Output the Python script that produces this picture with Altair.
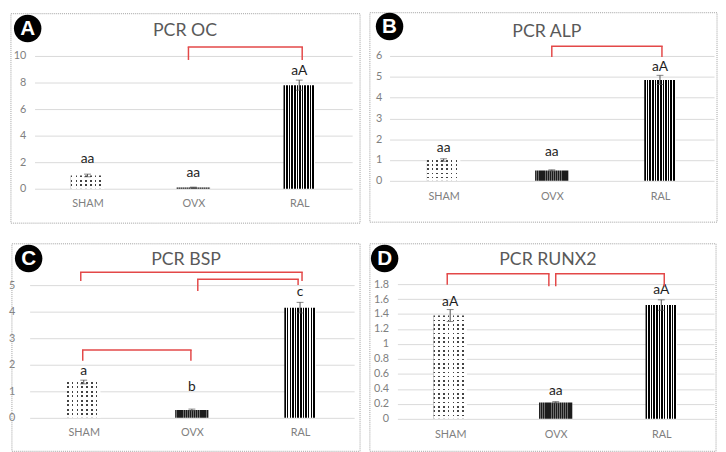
import altair as alt
import pandas as pd

# ---------------- data ----------------
cats = ["SHAM", "OVX", "RAL"]
letters = ["A", "B", "C", "D"]
titles = ["PCR OC", "PCR ALP", "PCR BSP", "PCR RUNX2"]

oc_mean = [1.0, 0.1, 7.8]
oc_err = [0.1, 0.02, 0.38]
oc_lab = ["aa", "aa", "aA"]
oc_lab_y = [2.2, 1.2, 8.9]
oc_ticks = [0, 2, 4, 6, 8, 10]
oc_brackets = [("OVX", "RAL", 10.67, 9.7, 9.7)]

alp_mean = [1.0, 0.5, 4.85]
alp_err = [0.06, 0.03, 0.22]
alp_lab = ["aa", "aa", "aA"]
alp_lab_y = [1.56, 1.37, 5.48]
alp_ticks = [0, 1, 2, 3, 4, 5, 6]
alp_brackets = [("OVX", "RAL", 6.47, 5.95, 5.95)]

bsp_mean = [1.35, 0.3, 4.15]
bsp_err = [0.07, 0.03, 0.2]
bsp_lab = ["a", "b", "c"]
bsp_lab_y = [1.78, 1.15, 4.74]
bsp_ticks = [0, 1, 2, 3, 4, 5]
bsp_brackets = [("SHAM", "RAL", 5.48, 5.15, 5.15),
                ("OVX", "RAL", 5.22, 4.78, 5.0),
                ("SHAM", "OVX", 2.56, 2.15, 2.15)]

runx2_mean = [1.38, 0.22, 1.52]
runx2_err = [0.08, 0.01, 0.07]
runx2_lab = ["aA", "aa", "aA"]
runx2_lab_y = [1.56, 0.37, 1.72]
runx2_ticks = [0, 0.2, 0.4, 0.6, 0.8, 1, 1.2, 1.4, 1.6, 1.8]
runx2_brackets = [("SHAM", "OVX", 1.94, 1.79, 1.77),
                  ("OVX", "RAL", 1.94, 1.77, 1.77)]

# ---------------- styles ----------------
RED = "#e34848"
FONT = "Lato"
BAR_W = 34


def stripes(n, c_on, c_off, frac, vertical=True):
    stops = []
    for i in range(n):
        a = i / n
        b = (i + frac) / n
        c = (i + 1) / n
        stops += [alt.GradientStop(offset=a, color=c_on),
                  alt.GradientStop(offset=b, color=c_on),
                  alt.GradientStop(offset=b, color=c_off),
                  alt.GradientStop(offset=c, color=c_off)]
    if vertical:
        return alt.LinearGradient(gradient="linear", stops=stops, x1=0, x2=1, y1=0, y2=0)
    return alt.LinearGradient(gradient="linear", stops=stops, x1=0, x2=0, y1=0, y2=1)


def panel(letter, title, means, errs, labs, lab_y, ticks, brackets, lay):
    W, H = lay["W"], lay["H"]
    ymax = ticks[-1]
    df = pd.DataFrame({
        "cat": cats,
        "mean": means,
        "lo": [m - e for m, e in zip(means, errs)],
        "hi": [m + e for m, e in zip(means, errs)],
        "lab": labs,
        "ly": lab_y,
    })
    if "xrange" in lay:
        xs = alt.Scale(type="point", domain=cats, padding=0.5, range=lay["xrange"])
    else:
        xs = alt.Scale(type="point", domain=cats, padding=0.5)
    ys = alt.Scale(domain=[0, ymax], nice=False, zero=True)

    xaxis = alt.Axis(title=None, labelAngle=0, ticks=False, domain=False, grid=False,
                     labelPadding=lay["xpad"], labelFont=FONT, labelFontSize=11,
                     labelColor="#808080")
    yaxis = alt.Axis(title=None, values=ticks, format=".1~f", ticks=False, domain=False,
                     grid=True, gridColor="#d9d9d9", gridWidth=1,
                     labelPadding=lay["ypad"], labelFont=FONT, labelFontSize=11,
                     labelColor="#808080")

    def X(field="cat"):
        return alt.X(f"{field}:N", scale=xs, sort=cats, axis=xaxis)

    def Y(field):
        return alt.Y(f"{field}:Q", scale=ys, axis=yaxis)

    one = pd.DataFrame({"t": [title], "letter": [letter]})
    fl, fr, ft, fb = lay["frame"]
    frame = alt.Chart(one).mark_rect(filled=False, stroke="#a0a0a0", strokeWidth=1,
                                     strokeDash=[1, 1]).encode(
        x=alt.value(fl), x2=alt.value(W + fr), y=alt.value(ft), y2=alt.value(H + fb))

    base = alt.Chart(df)
    layers = [frame]

    # SHAM: dotted texture (columns x transparent rows)
    sham_px = means[0] / ymax * H
    rows = max(1, round(sham_px / 4.3))
    sham_cols = stripes(7, "#444444", "white", 0.34, vertical=True)
    sham_rows = stripes(rows, "rgba(255,255,255,0)", "white", 0.38, vertical=False)
    sham = base.transform_filter(alt.datum.cat == "SHAM")
    layers.append(sham.mark_bar(width=BAR_W, fill=sham_cols).encode(x=X(), y=Y("mean")))
    layers.append(sham.mark_bar(width=BAR_W, fill=sham_rows).encode(x=X(), y=Y("mean")))

    # OVX: dense dark texture
    ovx_fill = stripes(16, "#1c1c1c", "#6e6e6e", 0.6, vertical=True)
    layers.append(base.transform_filter(alt.datum.cat == "OVX").mark_bar(
        width=BAR_W, fill=ovx_fill).encode(x=X(), y=Y("mean")))

    # RAL: vertical stripes
    ral_fill = stripes(12, "#000000", "#ffffff", 0.58, vertical=True)
    layers.append(base.transform_filter(alt.datum.cat == "RAL").mark_bar(
        width=BAR_W - 2, fill=ral_fill).encode(x=X(), y=Y("mean")))

    # error bars
    layers.append(base.mark_rule(color="#505050", strokeWidth=1).encode(
        x=X(), y=Y("lo"), y2=alt.Y2("hi")))
    layers.append(base.mark_tick(orient="horizontal", size=7, thickness=1, color="#505050").encode(
        x=X(), y=Y("hi")))
    layers.append(base.mark_tick(orient="horizontal", size=7, thickness=1, color="#505050").encode(
        x=X(), y=Y("lo")))

    # significance letters
    layers.append(base.mark_text(font=FONT, fontSize=14, color="#1e1e1e", baseline="middle").encode(
        x=X(), y=Y("ly"), text="lab:N"))

    # brackets
    for (l, r, top, ll, rl), (dx1, dx2) in zip(brackets, lay["boff"]):
        bdf = pd.DataFrame({"l": [l], "r": [r], "top": [top], "ll": [ll], "rl": [rl]})
        bc = alt.Chart(bdf)
        layers.append(bc.mark_rule(color=RED, strokeWidth=1.5, strokeCap="square",
                                   xOffset=dx1, x2Offset=dx2).encode(
            x=X("l"), x2=alt.X2("r"), y=Y("top")))
        layers.append(bc.mark_rule(color=RED, strokeWidth=1.5, xOffset=dx1).encode(
            x=X("l"), y=Y("ll"), y2=alt.Y2("top")))
        layers.append(bc.mark_rule(color=RED, strokeWidth=1.5, xOffset=dx2).encode(
            x=X("r"), y=Y("rl"), y2=alt.Y2("top")))

    tx, ty = lay["title"]
    layers.append(alt.Chart(one).mark_text(font=FONT, fontSize=18, color="#595959",
                                           baseline="middle").encode(
        x=alt.value(tx), y=alt.value(ty), text="t:N"))
    bx, by = lay["badge"]
    layers.append(alt.Chart(one).mark_circle(size=780, color="black", opacity=1).encode(
        x=alt.value(bx), y=alt.value(by)))
    layers.append(alt.Chart(one).mark_text(font="Liberation Sans", fontWeight="bold", fontSize=21,
                                           color="white", baseline="middle", dy=1).encode(
        x=alt.value(bx), y=alt.value(by), text="letter:N"))

    return alt.layer(*layers).properties(width=W, height=H)


lay_a = dict(W=323, H=135, frame=(-24, 8, -43, 35), title=(153, -25), badge=(-7, -28),
             ypad=9, xpad=9, boff=[(-5, 3)])
lay_b = dict(W=330, H=127, frame=(-20, 3, -44, 42), title=(160, -24), badge=(0, -30),
             ypad=8, xpad=10, boff=[(0, 2)])
lay_c = dict(W=326, H=135, frame=(-23, 5, -42, 34), title=(154, -25), badge=(-6, -27),
             ypad=20, xpad=9, xrange=[-5, 325], boff=[(-3, 2), (6, -2), (-1, -1)])
lay_d = dict(W=322, H=137, frame=(-28, 2, -41, 33), title=(153, -24), badge=(-13, -26),
             ypad=9, xpad=10, boff=[(-3, -7), (0, 3)])

pa = panel(letters[0], titles[0], oc_mean, oc_err, oc_lab, oc_lab_y, oc_ticks, oc_brackets, lay_a)
pb = panel(letters[1], titles[1], alp_mean, alp_err, alp_lab, alp_lab_y, alp_ticks, alp_brackets, lay_b)
pc = panel(letters[2], titles[2], bsp_mean, bsp_err, bsp_lab, bsp_lab_y, bsp_ticks, bsp_brackets, lay_c)
pd_ = panel(letters[3], titles[3], runx2_mean, runx2_err, runx2_lab, runx2_lab_y, runx2_ticks,
            runx2_brackets, lay_d)

chart = alt.concat(
    pa, pb, pc, pd_,
    columns=2,
    align="none",
    bounds="full",
    spacing=alt.RowColnumber(row=19, column=8),
).properties(padding=0).configure_view(strokeWidth=0)

chart.save("out.html", embed_options={"renderer": "svg", "actions": False})
